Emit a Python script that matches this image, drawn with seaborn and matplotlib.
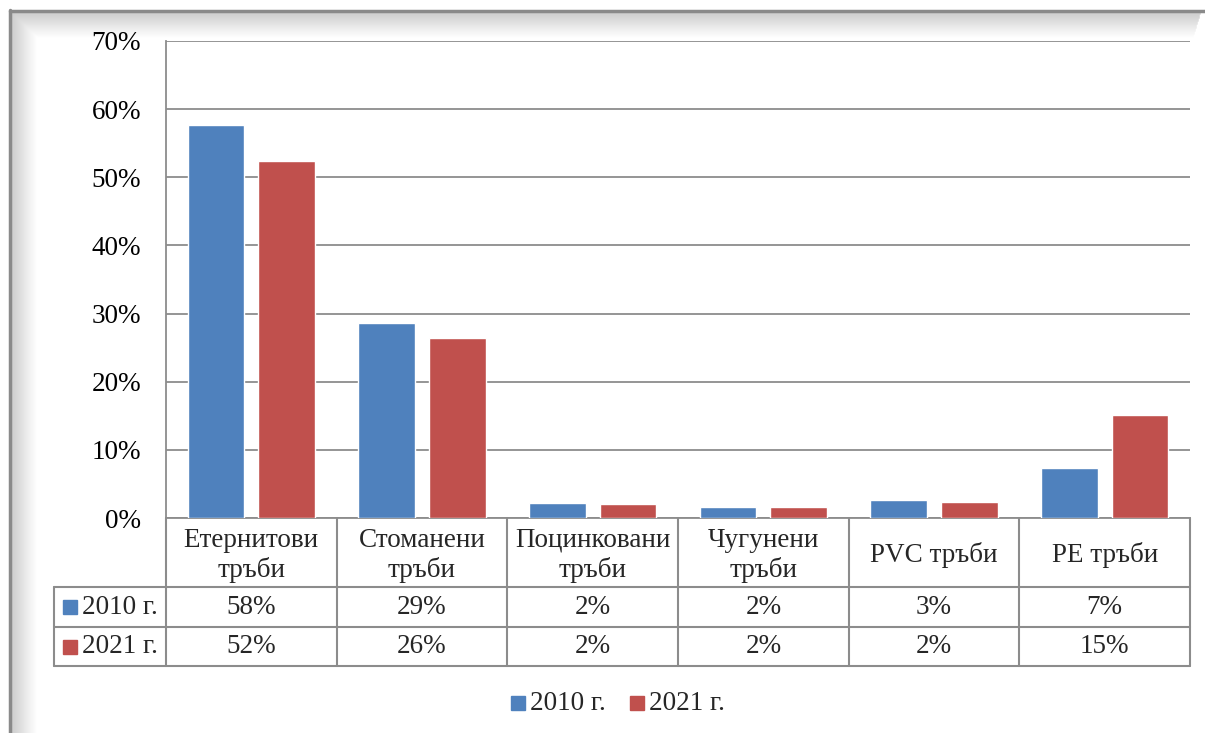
import matplotlib
matplotlib.use("Agg")
import matplotlib.pyplot as plt
import numpy as np
import pandas as pd
import seaborn as sns
from matplotlib.lines import Line2D
from matplotlib.patches import Rectangle

# Data (share of pipe network, %)
categories = ["Етернитови\nтръби", "Стоманени\nтръби", "Поцинковани\nтръби",
              "Чугунени\nтръби", "PVC тръби", "PE тръби"]
series = ["2010 г.", "2021 г."]
values_2010 = [57.6, 28.6, 2.2, 1.6, 2.6, 7.4]
values_2021 = [52.4, 26.4, 2.05, 1.55, 2.4, 15.1]
colors = ["#4F81BD", "#C0504D"]
yticks = [0, 10, 20, 30, 40, 50, 60, 70]

W, H = 1205, 733
FS = 19.5
GRID = "#8C8C8C"

sns.set_theme(style="white")
plt.rcParams["font.family"] = ["Liberation Serif", "DejaVu Serif"]

df = pd.DataFrame({
    "category": categories * 2,
    "year": [series[0]] * len(categories) + [series[1]] * len(categories),
    "value": values_2010 + values_2021,
})

fig = plt.figure(figsize=(W / 100, H / 100), dpi=100)
fig.patch.set_facecolor("white")


def fx(px):
    return px / W


def fy(py):
    return 1 - py / H


# decorative frame with soft bevel like the source image
bg = fig.add_axes([0, 0, 1, 1], zorder=-5)
bg.set_xlim(0, W)
bg.set_ylim(H, 0)
bg.axis("off")
for i in range(26):
    shade = 0.80 + 0.2 * (i / 25)
    c = (shade, shade, shade)
    bg.add_line(Line2D([12 + i, 12 + i], [12 + i, H], color=c, lw=1.2))
    bg.add_line(Line2D([12 + i, 1200 - i * 0.3], [13 + i, 13 + i], color=c, lw=1.2))
bg.add_line(Line2D([10, 10], [10, H], color="#8A8A8A", lw=2.5))
bg.add_line(Line2D([10, W], [11, 11], color="#8A8A8A", lw=2.5))
bg.add_patch(Rectangle((38, 40), 1160, H, color="white", zorder=3))

# plot area
x0, x1, y0, y1 = 166, 1190, 41, 518
ax = fig.add_axes([fx(x0), fy(y1), fx(x1 - x0), (y1 - y0) / H])
sns.barplot(data=df, x="category", y="value", hue="year", palette=colors,
            width=0.83, gap=0.2, saturation=1, ax=ax, legend=False, zorder=3)
ax.set_ylim(0, 70)
ax.set_xlim(-0.5, len(categories) - 0.5)
ax.set_yticks(yticks)
ax.set_yticklabels([f"{t}%" for t in yticks], fontsize=FS, color="black")
ax.set_xticks([])
ax.set_xlabel("")
ax.set_ylabel("")
ax.tick_params(axis="y", length=0, pad=18)
ax.yaxis.grid(True, color=GRID, lw=1.3)
ax.set_axisbelow(True)
for side in ["top", "right"]:
    ax.spines[side].set_visible(False)
ax.spines["left"].set_color(GRID)
ax.spines["left"].set_linewidth(1.3)
ax.spines["bottom"].set_color(GRID)
ax.spines["bottom"].set_linewidth(1.3)
ax.patch.set_alpha(0)

# data table underneath
ov = fig.add_axes([0, 0, 1, 1], zorder=5)
ov.set_xlim(0, W)
ov.set_ylim(H, 0)
ov.axis("off")

col_w = (x1 - x0) / len(categories)
r_head, r1, r2, r3 = 518, 587, 627, 666
lab_x = 54
lk = dict(color=GRID, lw=1.5)
for i in range(len(categories) + 1):
    xx = x0 + i * col_w
    ov.add_line(Line2D([xx, xx], [r_head, r3], **lk))
ov.add_line(Line2D([lab_x, lab_x], [r1, r3], **lk))
for yy in [r1, r2, r3]:
    ov.add_line(Line2D([lab_x, x1], [yy, yy], **lk))

for i, cat in enumerate(categories):
    cx = x0 + (i + 0.5) * col_w
    ov.text(cx, (r_head + r1) / 2 + 3, cat, ha="center", va="center",
            fontsize=FS, linespacing=1.2)
    ov.text(cx, (r1 + r2) / 2, f"{values_2010[i]:.0f}%", ha="center",
            va="center", fontsize=FS)
    ov.text(cx, (r2 + r3) / 2, f"{values_2021[i]:.0f}%", ha="center",
            va="center", fontsize=FS)

for (ya, yb), name, col in zip([(r1, r2), (r2, r3)], series, colors):
    ym = (ya + yb) / 2
    ov.add_patch(Rectangle((63, ym - 7), 14, 14, color=col))
    ov.text(82, ym, name, ha="left", va="center", fontsize=FS)

# legend at the bottom
leg_y = 703
ov.add_patch(Rectangle((511, leg_y - 7), 14, 14, color=colors[0]))
ov.text(530, leg_y, series[0], ha="left", va="center", fontsize=FS)
ov.add_patch(Rectangle((630, leg_y - 7), 14, 14, color=colors[1]))
ov.text(649, leg_y, series[1], ha="left", va="center", fontsize=FS)

fig.savefig("out.png", dpi=100)
